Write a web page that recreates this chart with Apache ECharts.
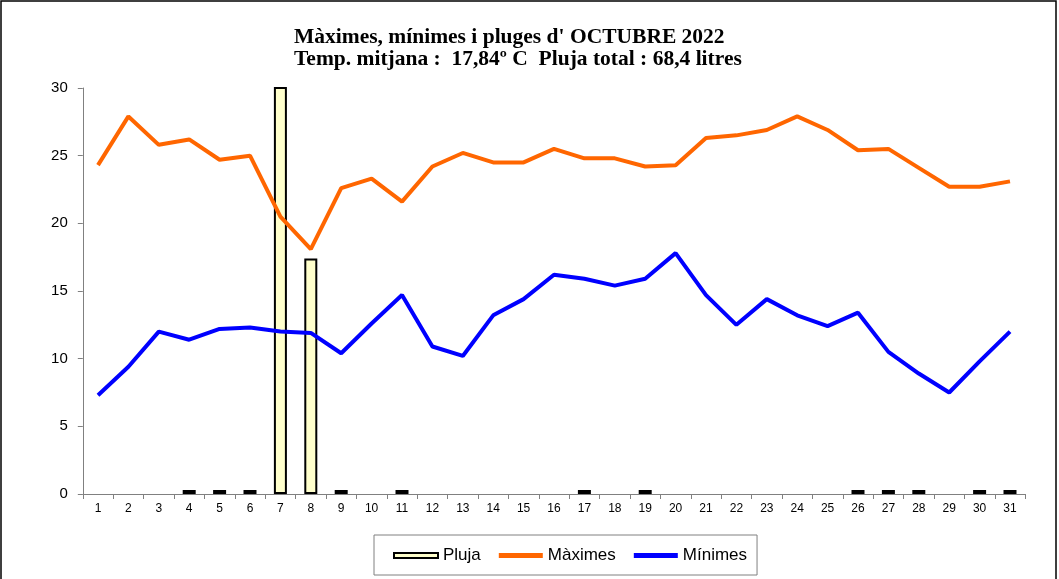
<!DOCTYPE html>
<html>
<head>
<meta charset="utf-8">
<script src="https://cdn.jsdelivr.net/npm/echarts@6/dist/echarts.min.js"></script>
<style>
html, body { margin: 0; padding: 0; background: #fff; }
#chart { width: 1059px; height: 579px; }
</style>
</head>
<body>
<div id="chart"></div>
<script>
var days = [];
for (var d = 1; d <= 31; d++) days.push(String(d));

// pluja (litres), maximes i minimes (ºC) de cada dia; '-' = sense pluja
var pluja = ['-', '-', '-', 0.2, 0.2, 0.2, 48.6, 17.4, 0.2, '-', 0.2, '-', '-', '-', '-', '-',
    0.2, '-', 0.2, '-', '-', '-', '-', '-', '-', 0.2, 0.2, 0.2, '-', 0.2, 0.2];
var maximes = [24.3, 27.9, 25.8, 26.2, 24.7, 25.0, 20.5, 18.1, 22.6, 23.3, 21.6,
    24.2, 25.2, 24.5, 24.5, 25.5, 24.8, 24.8, 24.2, 24.3, 26.3, 26.5, 26.9, 27.9,
    26.9, 25.4, 25.5, 24.1, 22.7, 22.7, 23.1];
var minimes = [7.3, 9.4, 12.0, 11.4, 12.2, 12.3, 12.0, 11.9, 10.4, 12.6, 14.7,
    10.9, 10.2, 13.2, 14.4, 16.2, 15.9, 15.4, 15.9, 17.8, 14.7, 12.5, 14.4, 13.2,
    12.4, 13.4, 10.5, 8.9, 7.5, 9.8, 12.0];
var yTicks = [0, 5, 10, 15, 20, 25, 30];

var myChart = echarts.init(document.getElementById('chart'));

var option = {
    backgroundColor: '#fff',
    animation: false,
    title: {
        text: 'Màximes, mínimes i pluges d\' OCTUBRE 2022\nTemp. mitjana :  17,84º C  Pluja total : 68,4 litres',
        left: 289,
        top: 22,
        textAlign: 'left',
        textStyle: {
            fontFamily: 'Liberation Serif',
            fontWeight: 'bold',
            fontSize: 21.5,
            lineHeight: 21.5,
            color: '#000'
        }
    },
    graphic: [{
        type: 'rect',
        shape: { x: 1, y: 1, width: 1055, height: 620 },
        style: { fill: null, stroke: '#000', lineWidth: 1.5 },
        silent: true
    }],
    legend: {
        left: 374,
        top: 535,
        orient: 'horizontal',
        padding: [12, 10, 11, 19],
        itemGap: 18,
        itemWidth: 44,
        itemHeight: 5,
        borderColor: '#808080',
        borderWidth: 1,
        textStyle: { fontFamily: 'Arial, Liberation Sans', fontSize: 17, color: '#000' },
        data: [
            { name: 'Pluja', icon: 'rect' },
            { name: 'Màximes', icon: 'rect', itemStyle: { color: '#FF6600', borderWidth: 0 } },
            { name: 'Mínimes', icon: 'rect', itemStyle: { color: '#0000FF', borderWidth: 0 } }
        ]
    },
    grid: {
        left: 82.8,
        right: 33.8,
        top: 88,
        bottom: 85
    },
    xAxis: {
        type: 'category',
        data: days,
        boundaryGap: true,
        axisLine: { lineStyle: { color: '#808080', width: 1 } },
        axisTick: { show: true, length: 5, alignWithLabel: false, lineStyle: { color: '#808080' } },
        axisLabel: { color: '#000', fontFamily: 'Arial, Liberation Sans', fontSize: 12, margin: 9, interval: 0 },
        splitLine: { show: false }
    },
    yAxis: {
        type: 'value',
        min: yTicks[0],
        max: yTicks[yTicks.length - 1],
        interval: 5,
        axisLine: { show: true, lineStyle: { color: '#808080', width: 1 } },
        axisTick: { show: true, length: 5, lineStyle: { color: '#808080' } },
        axisLabel: { color: '#000', fontFamily: 'Arial, Liberation Sans', fontSize: 15, margin: 15 },
        splitLine: { show: false }
    },
    series: [
        {
            name: 'Pluja',
            type: 'bar',
            data: pluja,
            barWidth: 13,
            barMinHeight: 4,
            clip: true,
            itemStyle: { color: '#FFFFCC', borderColor: '#000', borderWidth: 2 }
        },
        {
            name: 'Màximes',
            type: 'line',
            data: maximes,
            symbol: 'none',
            color: '#FF6600',
            lineStyle: { color: '#FF6600', width: 4 }
        },
        {
            name: 'Mínimes',
            type: 'line',
            data: minimes,
            symbol: 'none',
            color: '#0000FF',
            lineStyle: { color: '#0000FF', width: 4 }
        }
    ]
};

myChart.setOption(option);
</script>
</body>
</html>
